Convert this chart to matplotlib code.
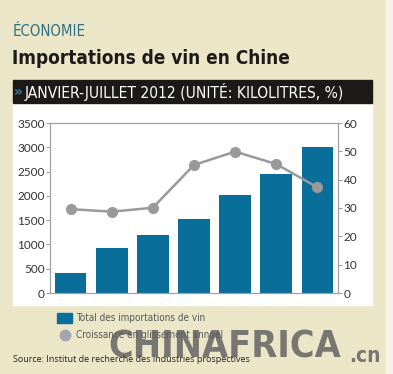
import matplotlib
matplotlib.use("Agg")
import matplotlib.pyplot as plt
from matplotlib.patches import Rectangle

# data
months = ["1", "2", "3", "4", "5", "6", "7"]
imports_kl = [420, 930, 1190, 1530, 2010, 2460, 3010]
growth_pct = [29.6, 28.7, 30.1, 45.2, 49.9, 45.5, 37.3]

bar_label = "Total des importations de vin"
line_label = "Croissance en glissement annuel"

BEIGE = "#ece6c8"
BLUE = "#0a6e9b"
GREY = "#9a9a9a"
NARROW = ["DejaVu Sans", "Liberation Sans"]
COND = "condensed"

W, H = 393, 374
fig = plt.figure(figsize=(W / 100, H / 100), dpi=100)
fig.patch.set_facecolor(BEIGE)

def px(x0, y0, x1, y1):
    # pixel box (top-left origin) -> figure fraction rect
    return [x0 / W, 1 - y1 / H, (x1 - x0) / W, (y1 - y0) / H]

# white panel and black banner
fig.patches.append(Rectangle((13 / W, 1 - 305 / H), 359 / W, 202 / H,
                             transform=fig.transFigure, color="white", zorder=-5))
fig.patches.append(Rectangle((13 / W, 1 - 103 / H), 359 / W, 23 / H,
                             transform=fig.transFigure, color="#1c1a18", zorder=-5))
fig.patches.append(Rectangle((386 / W, 0), 7 / W, 1,
                             transform=fig.transFigure, color="#f6f3e6", zorder=-5))

# header texts
fig.text(13 / W, 1 - 31 / H, "ÉCONOMIE", color="#2d7086", fontsize=10.7,
         family=NARROW, stretch=COND, va="center", ha="left")
fig.text(12 / W, 1 - 59 / H, "Importations de vin en Chine", color="#1d1b19",
         fontsize=13.6, family=NARROW, stretch=COND, weight="bold", va="center", ha="left")
fig.text(14 / W, 1 - 92 / H, "»", color="#3a7fb0", fontsize=10,
         family=NARROW, weight="bold", va="center", ha="left")
fig.text(25 / W, 1 - 92 / H, "JANVIER-JUILLET 2012 (UNITÉ: KILOLITRES, %)",
         color="white", fontsize=11.2, family=NARROW, stretch=COND, va="center", ha="left")

# chart
ax = fig.add_axes(px(50, 123, 338, 293))
ax.set_facecolor("none")
x = range(len(months))
ax.bar(x, imports_kl, width=0.77, color=BLUE, zorder=2)
ax.set_xlim(-0.5, len(months) - 0.5)
ax.set_ylim(0, 3500)
ax.set_yticks(range(0, 3501, 500))
ax.set_xticks([])

ax2 = ax.twinx()
ax2.plot(x, growth_pct, color=GREY, lw=1.8, marker="o", ms=7, zorder=3)
ax2.set_ylim(0, 60)
ax2.set_yticks(range(0, 61, 10))

for a in (ax, ax2):
    for s in a.spines.values():
        s.set_color("#a0a0a0")
        s.set_linewidth(0.8)
    a.tick_params(axis="y", labelsize=8.5, colors="#a0a0a0", labelcolor="#333333",
                  length=3, width=0.8, pad=1)
    for t in a.get_yticklabels():
        t.set_family(["Lato", "DejaVu Sans"])

# legend
fig.patches.append(Rectangle((57 / W, 1 - 323 / H), 15 / W, 10 / H,
                             transform=fig.transFigure, color=BLUE, zorder=1))
fig.text(76 / W, 1 - 318 / H, bar_label, color="#555555", fontsize=7.1,
         family=NARROW, stretch=COND, va="center", ha="left")
fig.add_artist(plt.Line2D([65 / W], [1 - 335 / H], marker="o", ms=7.5,
                          color="#a7a4b0", transform=fig.transFigure))
fig.text(76 / W, 1 - 335 / H, line_label, color="#555555", fontsize=7.1,
         family=NARROW, stretch=COND, va="center", ha="left")

# watermark
fig.text(108 / W, 1 - 347 / H, "CHINAFRICA", color="#5a5a5a", alpha=0.8,
         fontsize=27, family=NARROW, stretch=COND, weight="bold", va="center", ha="left")
fig.text(349 / W, 1 - 356 / H, ".cn", color="#5a5a5a", alpha=0.8,
         fontsize=15, family=NARROW, stretch=COND, weight="bold", va="center", ha="left")

fig.text(13 / W, 1 - 359 / H, "Source: Institut de recherche des industries prospectives",
         color="#222222", fontsize=6.5, family=["Open Sans", "DejaVu Sans"],
         va="center", ha="left")

fig.savefig("out.png", dpi=100, facecolor=fig.get_facecolor())
